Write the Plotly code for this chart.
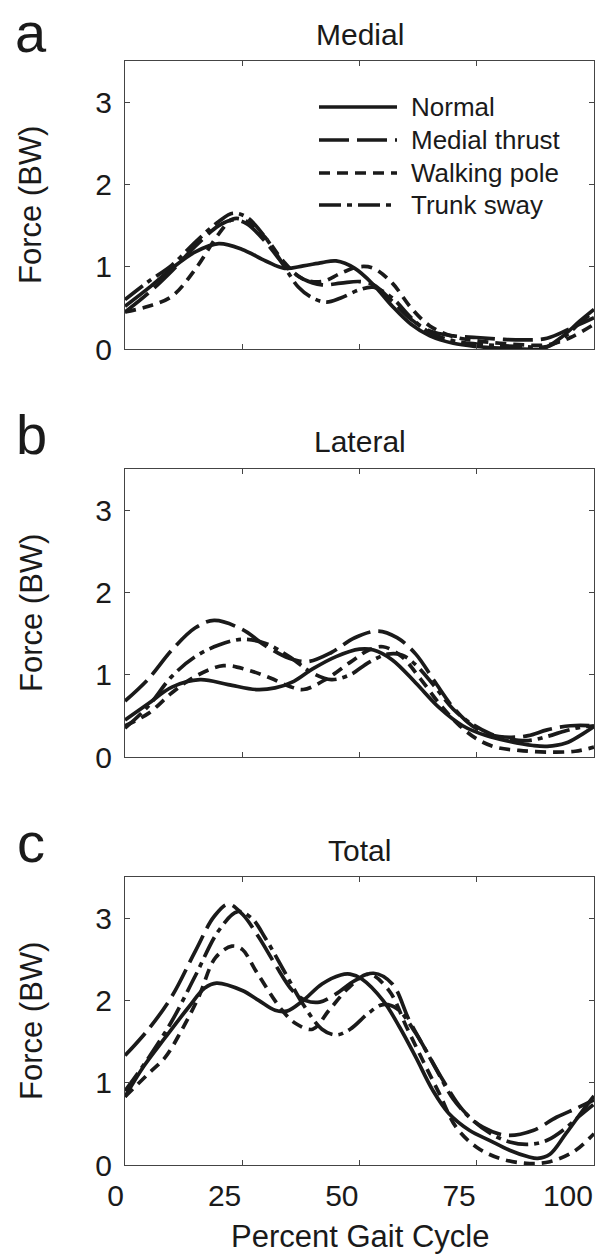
import plotly.graph_objects as go

# ---------------- data ----------------
series_names = ["Normal", "Medial thrust", "Walking pole", "Trunk sway"]
panel_titles = ["Medial", "Lateral", "Total"]
panel_letters = ["a", "b", "c"]
x_ticks = [0, 25, 50, 75, 100]
y_ticks = [0, 1, 2, 3]

# Panel a - Medial
med_normal_x = [0, 5, 10, 15, 20, 25, 30, 34, 38, 42, 45, 49, 53, 57, 61, 65, 70, 75, 80, 85, 89, 93, 97, 100]
med_normal_y = [0.52, 0.74, 0.98, 1.18, 1.28, 1.21, 1.07, 0.98, 1.01, 1.05, 1.07, 0.98, 0.78, 0.52, 0.30, 0.16, 0.07, 0.03, 0.01, 0.00, 0.00, 0.14, 0.34, 0.48]
med_thrust_x = [0, 5, 10, 15, 20, 23, 26, 30, 34, 38, 42, 46, 50, 53, 57, 61, 65, 70, 75, 80, 85, 90, 95, 100]
med_thrust_y = [0.45, 0.68, 0.95, 1.25, 1.50, 1.57, 1.52, 1.30, 1.02, 0.85, 0.78, 0.80, 0.82, 0.78, 0.58, 0.36, 0.22, 0.16, 0.14, 0.12, 0.11, 0.13, 0.25, 0.38]
med_pole_x = [0, 5, 10, 15, 20, 23, 26, 30, 34, 38, 42, 46, 50, 53, 57, 61, 65, 70, 75, 80, 85, 90, 95, 100]
med_pole_y = [0.45, 0.52, 0.64, 0.97, 1.40, 1.58, 1.55, 1.35, 1.05, 0.85, 0.82, 0.92, 1.00, 0.98, 0.80, 0.50, 0.28, 0.15, 0.10, 0.07, 0.05, 0.05, 0.14, 0.30]
med_sway_x = [0, 5, 10, 15, 20, 23, 26, 30, 34, 37, 40, 43, 46, 50, 53, 57, 61, 65, 70, 75, 80, 85, 90, 94, 97, 100]
med_sway_y = [0.60, 0.82, 1.02, 1.30, 1.55, 1.65, 1.60, 1.35, 1.00, 0.75, 0.62, 0.57, 0.62, 0.72, 0.75, 0.62, 0.38, 0.20, 0.10, 0.06, 0.04, 0.03, 0.03, 0.16, 0.32, 0.45]

# Panel b - Lateral
lat_normal_x = [0, 5, 10, 16, 22, 28, 32, 36, 40, 45, 50, 53, 57, 62, 67, 72, 77, 82, 87, 90, 94, 97, 100]
lat_normal_y = [0.45, 0.65, 0.85, 0.94, 0.88, 0.82, 0.84, 0.92, 1.07, 1.22, 1.31, 1.30, 1.18, 0.90, 0.60, 0.38, 0.26, 0.19, 0.14, 0.13, 0.17, 0.26, 0.37]
lat_thrust_x = [0, 5, 10, 15, 19, 25, 30, 35, 39, 44, 49, 54, 58, 62, 66, 70, 74, 78, 82, 86, 90, 95, 100]
lat_thrust_y = [0.68, 0.95, 1.30, 1.57, 1.66, 1.55, 1.35, 1.20, 1.16, 1.27, 1.45, 1.53, 1.45, 1.25, 0.92, 0.60, 0.38, 0.27, 0.24, 0.26, 0.33, 0.38, 0.38]
lat_pole_x = [0, 5, 10, 15, 21, 26, 31, 35, 38, 43, 48, 52, 55, 59, 63, 67, 71, 75, 79, 84, 90, 96, 100]
lat_pole_y = [0.38, 0.53, 0.78, 0.98, 1.11, 1.06, 0.96, 0.86, 0.82, 0.95, 1.15, 1.30, 1.34, 1.22, 0.95, 0.65, 0.40, 0.22, 0.12, 0.08, 0.06, 0.07, 0.12]
lat_sway_x = [0, 5, 10, 15, 20, 25, 30, 35, 40, 44, 48, 52, 56, 59, 62, 66, 70, 74, 78, 82, 86, 90, 94, 97, 100]
lat_sway_y = [0.35, 0.62, 0.98, 1.22, 1.36, 1.43, 1.38, 1.22, 1.02, 0.94, 1.00, 1.15, 1.25, 1.24, 1.12, 0.86, 0.58, 0.40, 0.28, 0.22, 0.20, 0.25, 0.32, 0.36, 0.38]

# Panel c - Total
tot_normal_x = [0, 4, 8.6, 13.6, 17, 19.5, 25, 28.5, 32, 34.5, 38, 42, 46, 48, 50.5, 55, 58.5, 62, 65.6, 69, 73.5, 77.7, 82, 86, 88, 90.6, 94, 97.7, 100]
tot_normal_y = [0.83, 1.20, 1.55, 1.92, 2.15, 2.21, 2.12, 2.00, 1.88, 1.87, 2.00, 2.20, 2.31, 2.32, 2.26, 2.00, 1.68, 1.31, 0.91, 0.63, 0.42, 0.30, 0.18, 0.10, 0.08, 0.13, 0.38, 0.67, 0.84]
tot_thrust_x = [0, 5, 10, 15, 19, 22, 25, 28.5, 32, 35.7, 38.5, 41.5, 45, 49, 53, 57, 60.6, 64.2, 67.8, 72, 76.3, 81.5, 87, 92, 96.3, 100]
tot_thrust_y = [1.33, 1.65, 2.05, 2.60, 3.02, 3.17, 3.05, 2.77, 2.44, 2.12, 2.00, 1.98, 2.08, 2.24, 2.33, 2.20, 1.76, 1.39, 1.03, 0.67, 0.46, 0.36, 0.42, 0.58, 0.69, 0.79]
tot_pole_x = [0, 5, 8.6, 12, 15.7, 19.3, 22.8, 25, 28, 33.5, 36.4, 40, 43.5, 47.8, 52, 56.3, 60, 63.5, 67, 70.6, 74.9, 79.9, 85.6, 90.6, 95.6, 100]
tot_pole_y = [0.83, 1.11, 1.31, 1.63, 2.04, 2.52, 2.66, 2.62, 2.35, 1.88, 1.72, 1.65, 1.88, 2.16, 2.32, 2.12, 1.68, 1.27, 0.87, 0.46, 0.22, 0.08, 0.02, 0.04, 0.16, 0.38]
tot_sway_x = [0, 5, 10, 15, 20, 24, 27, 30, 34, 38, 42, 45, 48, 52, 55, 58, 62, 66, 70, 74, 78, 82, 86, 90, 94, 97, 100]
tot_sway_y = [0.90, 1.30, 1.75, 2.30, 2.85, 3.08, 3.00, 2.75, 2.35, 1.95, 1.65, 1.58, 1.65, 1.85, 1.95, 1.90, 1.60, 1.20, 0.80, 0.55, 0.38, 0.28, 0.25, 0.30, 0.45, 0.60, 0.74]

panels = [
    [(med_normal_x, med_normal_y), (med_thrust_x, med_thrust_y), (med_pole_x, med_pole_y), (med_sway_x, med_sway_y)],
    [(lat_normal_x, lat_normal_y), (lat_thrust_x, lat_thrust_y), (lat_pole_x, lat_pole_y), (lat_sway_x, lat_sway_y)],
    [(tot_normal_x, tot_normal_y), (tot_thrust_x, tot_thrust_y), (tot_pole_x, tot_pole_y), (tot_sway_x, tot_sway_y)],
]

# ---------------- styling ----------------
W, H = 595, 1257
FONT = "Liberation Sans, Arial, Helvetica, sans-serif"
INK = "#1a1a1a"
AXIS = "#444444"
LW = 3.7
dashes = ["solid", "30px,8px", "11px,7px", "22px,6px,5px,6px"]

plot_left, plot_right = 125, 594
panel_px = [(61, 349), (469, 757), (877, 1165)]  # top, bottom in pixels


def px_x(p):
    return p / W


def px_y(p):
    return 1 - p / H


fig = go.Figure()

for i, curves in enumerate(panels):
    xa = "x" if i == 0 else f"x{i+1}"
    ya = "y" if i == 0 else f"y{i+1}"
    for j, (xs, ys) in enumerate(curves):
        fig.add_trace(go.Scatter(
            x=xs, y=ys, mode="lines", name=series_names[j],
            line=dict(color=INK, width=LW, dash=dashes[j], shape="spline", smoothing=1.0),
            xaxis=xa, yaxis=ya, showlegend=False, hoverinfo="skip",
        ))
    top, bot = panel_px[i]
    xkey = "xaxis" if i == 0 else f"xaxis{i+1}"
    ykey = "yaxis" if i == 0 else f"yaxis{i+1}"
    fig.update_layout(**{
        xkey: dict(
            domain=[px_x(plot_left), px_x(plot_right)], range=[0, 100], anchor=ya,
            tickvals=x_ticks, ticks="inside", ticklen=5, tickwidth=1, tickcolor=AXIS,
            showline=True, linecolor=AXIS, linewidth=1, mirror="ticks",
            showgrid=False, zeroline=False, showticklabels=(i == 2),
            ticklabelposition="outside left", ticklabelstandoff=4, automargin=False,
            tickfont=dict(family=FONT, size=30, color=INK),
        ),
        ykey: dict(
            domain=[px_y(bot), px_y(top)], range=[0, 3.5], anchor=xa,
            tickvals=y_ticks, ticks="inside", ticklen=5, tickwidth=1, tickcolor=AXIS,
            showline=True, linecolor=AXIS, linewidth=1, mirror="ticks",
            showgrid=False, zeroline=False, ticklabelstandoff=6, automargin=False,
            tickfont=dict(family=FONT, size=30, color=INK),
        ),
    })

annotations = []
LETTER_SIZE = 56
for i, (top, bot) in enumerate(panel_px):
    # panel letter (top of text box; kept inside the page for panel a)
    box_top = max(0, top - 16 - 0.905 * LETTER_SIZE)
    annotations.append(dict(text=panel_letters[i], x=px_x(31), y=px_y(box_top),
                            xref="paper", yref="paper", showarrow=False,
                            xanchor="center", yanchor="top", borderpad=0,
                            font=dict(family=FONT, size=LETTER_SIZE, color=INK)))
    # panel title
    annotations.append(dict(text=panel_titles[i], x=px_x((plot_left + plot_right) / 2), y=px_y(top - 27),
                            xref="paper", yref="paper", showarrow=False,
                            xanchor="center", yanchor="middle",
                            font=dict(family=FONT, size=30, color=INK)))
    # y-axis title
    annotations.append(dict(text="Force (BW)", x=px_x(31), y=px_y((top + bot) / 2),
                            xref="paper", yref="paper", showarrow=False, textangle=-90,
                            xanchor="center", yanchor="middle",
                            font=dict(family=FONT, size=31, color=INK)))

# x-axis title
annotations.append(dict(text="Percent Gait Cycle", x=px_x((plot_left + plot_right) / 2), y=px_y(1236),
                        xref="paper", yref="paper", showarrow=False,
                        xanchor="center", yanchor="middle",
                        font=dict(family=FONT, size=31, color=INK)))

# custom legend (panel a, upper right)
legend_rows = [107, 140, 173, 205]
shapes = []
for j, name in enumerate(series_names):
    ypos = px_y(legend_rows[j])
    shapes.append(dict(type="line", xref="paper", yref="paper",
                       x0=px_x(319), x1=px_x(397), y0=ypos, y1=ypos,
                       line=dict(color=INK, width=LW, dash=dashes[j])))
    annotations.append(dict(text=name, x=px_x(409), y=ypos, xref="paper", yref="paper",
                            showarrow=False, xanchor="left", yanchor="middle",
                            font=dict(family=FONT, size=26, color=INK)))

fig.update_layout(
    width=W, height=H,
    margin=dict(l=0, r=0, t=0, b=0, autoexpand=False),
    paper_bgcolor="white", plot_bgcolor="white",
    showlegend=False, hovermode=False,
    annotations=annotations, shapes=shapes,
)

fig.write_html(
    "out.html",
    config={"displayModeBar": False, "staticPlot": True},
    post_script="document.body.style.margin='0';document.body.style.padding='0';document.body.style.overflow='hidden';",
)
